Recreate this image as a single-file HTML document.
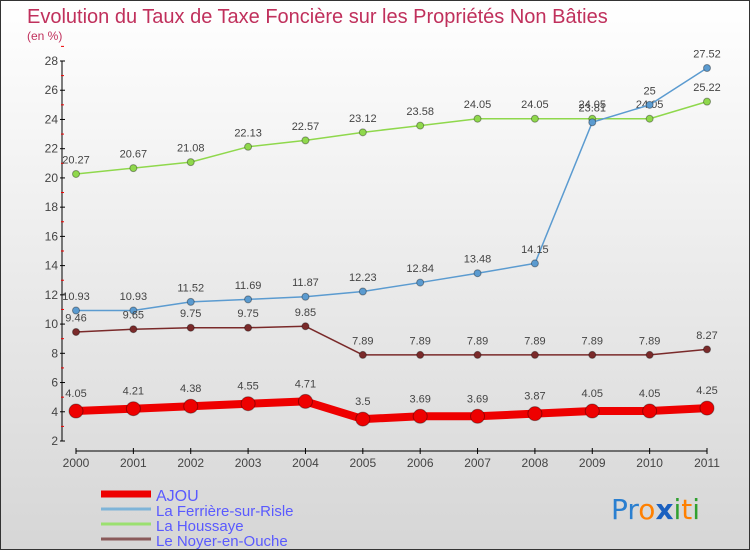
<!DOCTYPE html>
<html><head><meta charset="utf-8"><style>
body{margin:0}
#wrap{width:750px;height:550px;position:relative;box-sizing:border-box;border:1px solid #333;background:linear-gradient(#fff,#d6d6d6);font-family:"Liberation Sans",sans-serif;overflow:hidden}
svg{position:absolute;left:0;top:0}
</style></head><body>
<div id="wrap">
<svg id="c" width="750" height="550">
<text x="26" y="22" font-size="20" fill="#c0305c">Evolution du Taux de Taxe Foncière sur les Propriétés Non Bâties</text>
<text x="26" y="39" font-size="12" fill="#c0305c">(en %)</text>
<text x="610" y="518" font-size="28" font-family="'DejaVu Sans',sans-serif"><tspan fill="#2a7fd0">Pr</tspan><tspan fill="#ff8000">o</tspan><tspan fill="#1a60c0" font-weight="bold">x</tspan><tspan fill="#30a030">i</tspan><tspan fill="#ff8000">t</tspan><tspan fill="#30a030">i</tspan></text>
</svg>
</div>
<script>
const years=["2000","2001","2002","2003","2004","2005","2006","2007","2008","2009","2010","2011"];
const yTicks=[2,4,6,8,10,12,14,16,18,20,22,24,26,28];
const ajou=[4.05,4.21,4.38,4.55,4.71,3.5,3.69,3.69,3.87,4.05,4.05,4.25];
const ferriere=[10.93,10.93,11.52,11.69,11.87,12.23,12.84,13.48,14.15,23.81,25,27.52];
const houssaye=[20.27,20.67,21.08,22.13,22.57,23.12,23.58,24.05,24.05,24.05,24.05,25.22];
const noyer=[9.46,9.65,9.75,9.75,9.85,7.89,7.89,7.89,7.89,7.89,7.89,8.27];
const names=["AJOU","La Ferrière-sur-Risle","La Houssaye","Le Noyer-en-Ouche"];
const NS="http://www.w3.org/2000/svg";
const svg=document.getElementById('c');
const X=i=>75+i*(706-75)/(years.length-1);
const Y=v=>440-(v-2)*(380/26);
function mk(t,a,p){const e=document.createElementNS(NS,t);for(const k in a)e.setAttribute(k,a[k]);(p||svg).appendChild(e);return e;}
// axes
let ax=mk('line',{x1:61,y1:Y(28),x2:61,y2:440,stroke:'#000','stroke-width':1});


let xa=mk('line',{x1:75,y1:450,x2:706,y2:450,stroke:'#000','stroke-width':1});


yTicks.forEach(v=>{
 mk('line',{x1:59,y1:Y(v),x2:64,y2:Y(v),stroke:'#000'});
 mk('line',{x1:60,y1:Y(v+1),x2:63,y2:Y(v+1),stroke:'#e00'});
 const t=mk('text',{x:57,y:Y(v)+4,'text-anchor':'end','font-size':12,fill:'#444'});
 t.textContent=v;
 
 
});
years.forEach((y,i)=>{
 mk('line',{x1:X(i),y1:447,x2:X(i),y2:453,stroke:'#000'});
 const t=mk('text',{x:X(i),y:466,'text-anchor':'middle','font-size':12,fill:'#444'});
 t.textContent=y;
 
 
});
function series(data,color,lw,r,name){
 const g=mk('g',{});
 
 
 mk('polyline',{points:data.map((v,i)=>X(i)+','+Y(v)).join(' '),fill:'none',stroke:color,'stroke-width':lw,'stroke-linejoin':'round'},g);
 data.forEach((v,i)=>{
  const c=mk('circle',{cx:X(i),cy:Y(v),r:r,fill:color,stroke:'rgba(0,0,0,0.35)','stroke-width':1},g);
  
  
  const t=mk('text',{x:X(i),y:Y(v)-(r+7),'text-anchor':'middle','font-size':11,fill:'#444'},g);
  t.textContent=v;
  
  
 });
}
series(houssaye,'#8fd84c',1.5,3.5,'la-houssaye');
series(ferriere,'#5b9bd0',1.5,3.5,'la-ferriere');
series(noyer,'#7a2a2a',1.5,3.5,'le-noyer');
series(ajou,'#ee0000',8,7,'ajou');
// legend
const lc=['#ee0000','#7eb4d8','#9be070','#8a5a5a'];
names.forEach((n,i)=>{
 const y=493+i*15;
 const g=mk('g',{});
 
 
 mk('line',{x1:100,y1:y,x2:150,y2:y,stroke:lc[i],'stroke-width':i==0?7:3},g);
 const t=mk('text',{x:155,y:y+7,'font-size':i==0?16:15,fill:'#5a5aff'},g);
 t.textContent=n;
});
</script>
</body></html>
